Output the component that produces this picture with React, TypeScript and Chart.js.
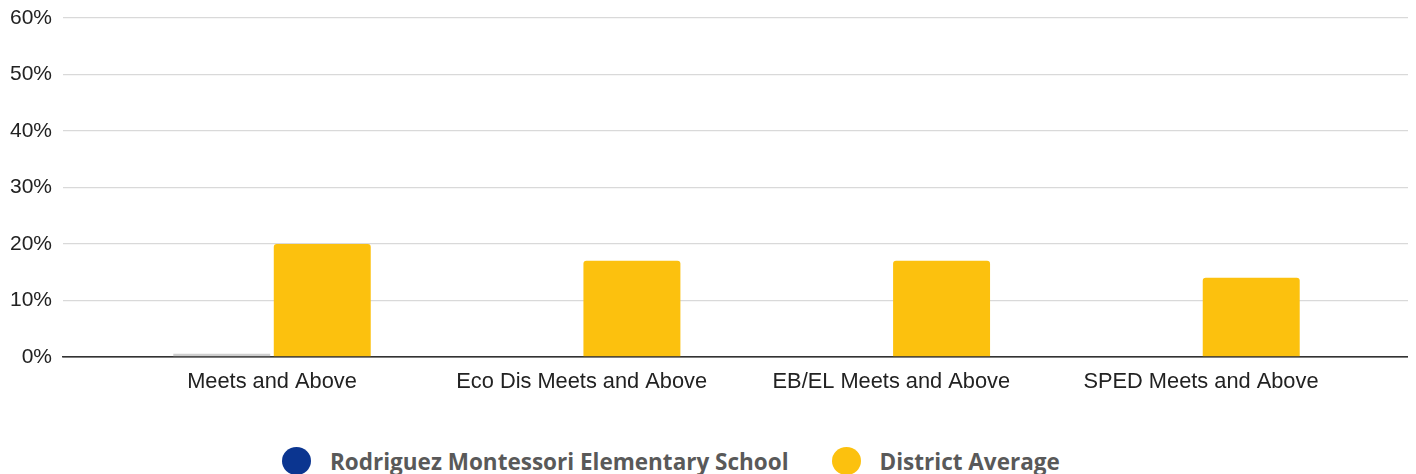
import React, { useEffect, useRef } from "react";
import { Chart, registerables } from "chart.js";

Chart.register(...registerables);

const categories = [
  "Meets and Above",
  "Eco Dis Meets and Above",
  "EB/EL Meets and Above",
  "SPED Meets and Above",
];
const schoolName = "Rodriguez Montessori Elementary School";
const districtName = "District Average";
const schoolValues: (number | null)[] = [0, null, null, null];
const districtValues: number[] = [20, 17, 17, 14];
const yTicks = [0, 10, 20, 30, 40, 50, 60];

const SCHOOL_COLOR = "#0b3590";
const SCHOOL_ZERO_COLOR = "#cfcfcf";
const DISTRICT_COLOR = "#fcc10e";

export default function App() {
  const canvasRef = useRef<HTMLCanvasElement | null>(null);

  useEffect(() => {
    if (!canvasRef.current) return;
    const chart = new Chart(canvasRef.current, {
      type: "bar",
      data: {
        datasets: [
          {
            label: schoolName,
            data: schoolValues.map((v, i) => ({ x: i, y: v })),
            backgroundColor: SCHOOL_ZERO_COLOR,
            minBarLength: 3,
            categoryPercentage: 0.649,
            barPercentage: 0.965,
          },
          {
            label: districtName,
            data: districtValues.map((v, i) => ({ x: i, y: v })),
            backgroundColor: DISTRICT_COLOR,
            borderRadius: { topLeft: 3, topRight: 3, bottomLeft: 0, bottomRight: 0 },
            borderSkipped: "bottom",
            categoryPercentage: 0.649,
            barPercentage: 0.965,
          },
        ],
      },
      options: {
        responsive: false,
        animation: false,
        layout: { padding: { top: 0, right: 2, left: 0, bottom: 0 } },
        plugins: {
          legend: { display: false },
          tooltip: { enabled: false },
        },
        scales: {
          x: {
            type: "linear",
            min: -0.675,
            max: 3.675,
            offset: false,
            z: 1,
            afterBuildTicks: (scale: any) => {
              scale.ticks = categories.map((_, i) => ({ value: i }));
            },
            grid: { display: false, drawTicks: false },
            border: { display: true, color: "#333333", width: 1.5 },
            ticks: {
              autoSkip: false,
              maxRotation: 0,
              padding: 12,
              color: "#222222",
              font: { family: "'Liberation Sans', Arial, sans-serif", size: 21.8 },
              callback: (v: any) => categories[Math.round(Number(v))] ?? "",
            },
          },
          y: {
            min: 0,
            max: 60,
            afterBuildTicks: (scale: any) => {
              scale.ticks = yTicks.map((v) => ({ value: v }));
            },
            afterFit: (scale: any) => {
              scale.width = 55;
              scale.paddingTop = 10;
              scale.paddingBottom = 10;
            },
            grid: {
              drawTicks: false,
              color: (ctx: any) => (ctx.tick && ctx.tick.value === 0 ? "#333333" : "#d9d9d9"),
              lineWidth: 1.2,
            },
            border: { display: false },
            ticks: {
              padding: 11,
              color: "#222222",
              font: { family: "'Liberation Sans', Arial, sans-serif", size: 21, lineHeight: 1 },
              callback: (v: any) => `${v}%`,
            },
          },
        },
      },
    } as any);
    return () => chart.destroy();
  }, []);

  const legendItem = (color: string, text: string, gap: number) => (
    <div style={{ display: "flex", alignItems: "center", marginRight: gap }}>
      <span
        style={{
          display: "inline-block",
          width: 29,
          height: 28,
          borderRadius: "50%",
          background: color,
          marginRight: 19,
        }}
      />
      <span
        style={{
          fontFamily: "'Open Sans', sans-serif",
          fontWeight: 700,
          fontSize: 22.5,
          color: "#595959",
          whiteSpace: "nowrap",
        }}
      >
        {text}
      </span>
    </div>
  );

  return (
    <div style={{ position: "relative", width: 1404, height: 466 }}>
      <canvas ref={canvasRef} width={1404} height={399} style={{ display: "block" }} />
      <div
        style={{
          position: "absolute",
          left: 274,
          top: 439,
          height: 28,
          display: "flex",
          alignItems: "center",
        }}
      >
        {legendItem(SCHOOL_COLOR, schoolName, 43)}
        {legendItem(DISTRICT_COLOR, districtName, 0)}
      </div>
    </div>
  );
}
